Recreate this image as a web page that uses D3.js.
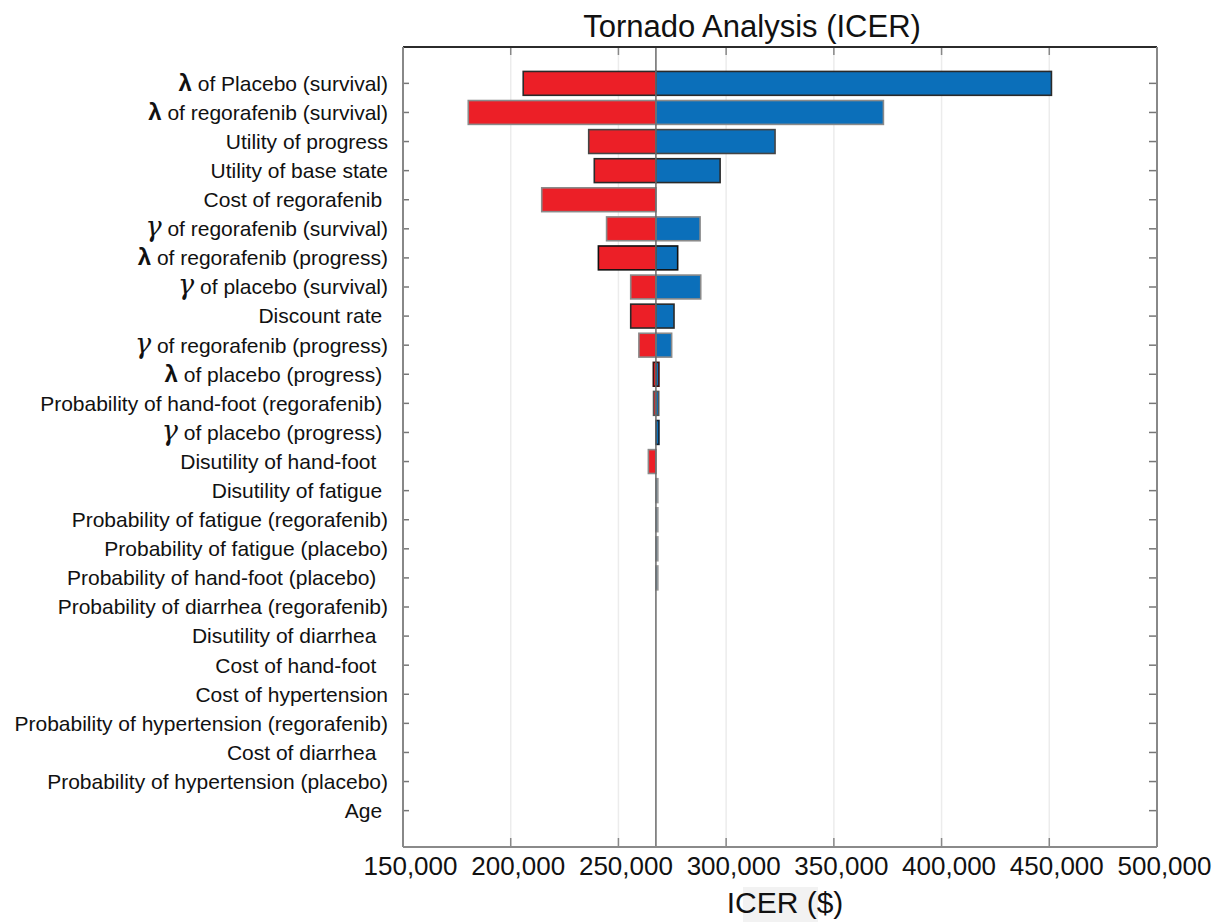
<!DOCTYPE html>
<html>
<head>
<meta charset="utf-8">
<script src="https://cdn.jsdelivr.net/npm/d3@7"></script>
<style>
  body { margin: 0; background: #fff; }
  svg { font-family: 'Liberation Sans', Arial, sans-serif; }
</style>
</head>
<body>
<div id="chart"></div>
<script>

//
// DATA
//

const categories = [
    'λ of Placebo (survival)',
    'λ of regorafenib (survival)',
    'Utility of progress',
    'Utility of base state',
    'Cost of regorafenib ',
    'γ of regorafenib (survival)',
    'λ of regorafenib (progress)',
    'γ of placebo (survival)',
    'Discount rate ',
    'γ of regorafenib (progress)',
    'λ of placebo (progress) ',
    'Probability of hand-foot (regorafenib) ',
    'γ of placebo (progress) ',
    'Disutility of hand-foot  ',
    'Disutility of fatigue ',
    'Probability of fatigue (regorafenib)',
    'Probability of fatigue (placebo)',
    'Probability of hand-foot (placebo)  ',
    'Probability of diarrhea (regorafenib)',
    'Disutility of diarrhea  ',
    'Cost of hand-foot  ',
    'Cost of hypertension',
    'Probability of hypertension (regorafenib)',
    'Cost of diarrhea  ',
    'Probability of hypertension (placebo)',
    'Age '
];

const baseIcer = 267400;

// ICER at the low end of each parameter's range
const lowIcer = [
    205800, 180300, 236200, 238800, 214400, 244500, 240700, 255700, 255700,
    259500, 266200, 266300, 267400, 263900, 267400, 267400, 267400, 267400,
    267400, 267400, 267400, 267400, 267400, 267400, 267400, 267400
];

// ICER at the high end of each parameter's range
const highIcer = [
    451000, 373000, 322700, 297200, 267400, 287900, 277500, 288200, 275800,
    274700, 268800, 268700, 268800, 267400, 268300, 268300, 268300, 268300,
    267400, 267400, 267400, 267400, 267400, 267400, 267400, 267400
];

const xTicks = [150000, 200000, 250000, 300000, 350000, 400000, 450000, 500000];

// outline colour of each bar (style only)
const outline = [
    '#2a2a2a', '#8a8a8a', '#444', '#2a2a2a', '#8a8a8a', '#8a8a8a', '#111',
    '#8a8a8a', '#2a2a2a', '#8a8a8a', '#3a1010', '#555', '#102030', '#8a8a8a',
    '#999', '#999', '#999', '#999', '#999', '#999', '#999', '#999', '#999',
    '#999', '#999', '#999'
];

//
// CHART
//

const width = 1229;
const height = 922;
const plot = {left: 403, right: 1157, top: 47, bottom: 847};

const svg = d3.select('#chart')
    .append('svg')
        .attr('width', width)
        .attr('height', height);

// scales
const x = d3.scaleLinear()
    .domain([150000, 500000])
    .range([plot.left, plot.right]);
const y = d3.scalePoint()
    .domain(categories)
    .range([plot.top, plot.bottom])
    .padding(1.25);
const barH = y.step() * 0.82;

// gridlines
svg.append('g')
    .selectAll('line')
    .data(xTicks.slice(1, -1))
    .join('line')
        .attr('x1', d => x(d))
        .attr('x2', d => x(d))
        .attr('y1', plot.top)
        .attr('y2', plot.bottom)
        .attr('stroke', '#ececec')
        .attr('stroke-width', 1.5);

// small tick marks on top and bottom borders
[[plot.top, 8], [plot.bottom, -9]].forEach(([yy, len]) => {
    svg.append('g')
        .selectAll('line')
        .data(xTicks.slice(1, -1))
        .join('line')
            .attr('x1', d => x(d))
            .attr('x2', d => x(d))
            .attr('y1', yy)
            .attr('y2', yy + len)
            .attr('stroke', '#888')
            .attr('stroke-width', 1.5);
});

// tick marks on left and right borders
[[plot.left, 6], [plot.right, -8]].forEach(([xx, len]) => {
    svg.append('g')
        .selectAll('line')
        .data(categories)
        .join('line')
            .attr('x1', xx)
            .attr('x2', xx + len)
            .attr('y1', d => y(d))
            .attr('y2', d => y(d))
            .attr('stroke', '#777')
            .attr('stroke-width', 1.5);
});

// bars
const rows = categories.map((c, i) => ({
    name: c, low: lowIcer[i], high: highIcer[i], stroke: outline[i]
}));

svg.append('g')
    .selectAll('rect')
    .data(rows.filter(d => d.low < baseIcer))
    .join('rect')
        .attr('x', d => x(d.low))
        .attr('y', d => y(d.name) - barH / 2)
        .attr('width', d => x(baseIcer) - x(d.low))
        .attr('height', barH)
        .attr('fill', '#ec1f27')
        .attr('stroke', d => d.stroke)
        .attr('stroke-width', 1.6);

svg.append('g')
    .selectAll('rect')
    .data(rows.filter(d => d.high > baseIcer))
    .join('rect')
        .attr('x', x(baseIcer))
        .attr('y', d => y(d.name) - barH / 2)
        .attr('width', d => x(d.high) - x(baseIcer))
        .attr('height', barH)
        .attr('fill', '#0b6fba')
        .attr('stroke', d => d.stroke)
        .attr('stroke-width', 1.6);

// base case line
svg.append('line')
    .attr('x1', x(baseIcer))
    .attr('x2', x(baseIcer))
    .attr('y1', plot.top)
    .attr('y2', plot.bottom)
    .attr('stroke', '#6a6a6a')
    .attr('stroke-width', 1.5);

// frame
svg.append('line')
    .attr('x1', plot.left).attr('x2', plot.right)
    .attr('y1', plot.top).attr('y2', plot.top)
    .attr('stroke', '#2b2b2b').attr('stroke-width', 2);
svg.append('line')
    .attr('x1', plot.left).attr('x2', plot.right)
    .attr('y1', plot.bottom).attr('y2', plot.bottom)
    .attr('stroke', '#8a8a8a').attr('stroke-width', 2);
[plot.left, plot.right].forEach(xx => {
    svg.append('line')
        .attr('x1', xx).attr('x2', xx)
        .attr('y1', plot.top).attr('y2', plot.bottom)
        .attr('stroke', '#888').attr('stroke-width', 2);
});

// x axis labels
const xAxis = svg.append('g')
    .attr('transform', `translate(7,${plot.bottom})`)
    .call(d3.axisBottom(x)
        .tickValues(xTicks)
        .tickSize(0)
        .tickPadding(10)
        .tickFormat(d3.format(',')));
xAxis.select('.domain').remove();
xAxis.selectAll('text')
    .attr('fill', '#111')
    .style('font-size', '26px')
    .style('font-family', "'Liberation Sans', Arial, sans-serif");

// category labels, greek symbol drawn bigger
const labels = svg.append('g')
    .selectAll('text')
    .data(categories)
    .join('text')
        .attr('x', 388)
        .attr('y', d => y(d))
        .attr('dy', '0.35em')
        .attr('text-anchor', 'end')
        .attr('fill', '#111')
        .style('font-size', '21px')
        .style('white-space', 'pre');

labels.each(function(d) {
    const t = d3.select(this);
    const first = d[0];
    if (first === 'λ') {
        t.append('tspan')
            .style('font-size', '24px')
            .style('font-weight', 'bold')
            .text('λ');
        t.append('tspan').text(d.slice(1));
    } else if (first === 'γ') {
        t.append('tspan')
            .style('font-size', '27px')
            .style('font-style', 'italic')
            .style('font-family', "'DejaVu Serif', serif")
            .text('γ');
        t.append('tspan').text(d.slice(1));
    } else {
        t.text(d);
    }
});

// title
svg.append('text')
    .attr('x', 752)
    .attr('y', 37)
    .attr('text-anchor', 'middle')
    .attr('fill', '#111')
    .style('font-size', '31px')
    .text('Tornado Analysis (ICER)');

// axis title, with the faint box behind it
svg.append('rect')
    .attr('x', 743)
    .attr('y', 887)
    .attr('width', 75)
    .attr('height', 35)
    .attr('fill', '#f2f2f2');
svg.append('text')
    .attr('x', 785)
    .attr('y', 913)
    .attr('text-anchor', 'middle')
    .attr('fill', '#111')
    .style('font-size', '30px')
    .text('ICER ($)');

</script>
</body>
</html>
